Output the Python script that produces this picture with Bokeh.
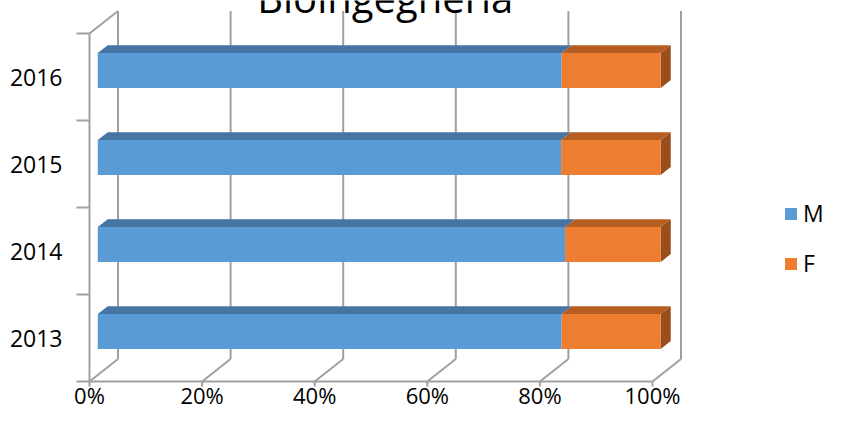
from bokeh.plotting import figure
from bokeh.models import Range1d, FixedTicker, Legend, LegendItem, Label
from bokeh.core.properties import value
from bokeh.embed import file_html
from bokeh.resources import INLINE

# ---- data ----
years = ["2013", "2014", "2015", "2016"]
m_share = [82.4, 83.0, 82.3, 82.4]
f_share = [17.6, 17.0, 17.7, 17.6]
x_ticks = [0, 20, 40, 60, 80, 100]
x_tick_labels = ["0%", "20%", "40%", "60%", "80%", "100%"]
title_text = "Bioingegneria"

# ---- style / layout ----
FONT = "Open Sans"
GREY = "#a0a0a0"
M_FRONT, M_TOP = "#5b9bd5", "#4675a4"
F_FRONT, F_TOP, F_SIDE = "#ed7d31", "#b65e22", "#9a4e1b"
PX_X = 5.63        # pixels per percent
PX_Y = 87.0        # pixels per category band
DX = 28.5 / PX_X   # depth vector (data units)
DY = 22.5 / PX_Y
F0, F1 = 0.29, 0.64   # bar depth (fraction of floor depth)
H = 0.2               # half bar height
ORIGIN_X, ORIGIN_Y = 89, 381   # pixel position of (0%, floor front)

W, HGT = 826, 409
left_border = 70
p = figure(width=W, height=HGT, output_backend="svg", toolbar_location=None,
           x_axis_location=None, y_axis_location="left",
           min_border_left=left_border, min_border_right=0,
           min_border_top=0, min_border_bottom=0,
           x_range=Range1d((left_border - ORIGIN_X) / PX_X, (W - ORIGIN_X) / PX_X),
           y_range=Range1d((ORIGIN_Y - HGT) / PX_Y, ORIGIN_Y / PX_Y))
p.outline_line_color = None
p.xgrid.visible = False
p.ygrid.visible = False
p.background_fill_color = "white"
p.border_fill_color = "white"

n = len(years)
# ---- walls / floor lines / ticks ----
sx0, sy0, sx1, sy1 = [], [], [], []
for t in x_ticks:
    sx0.append(t + DX); sy0.append(DY); sx1.append(t + DX); sy1.append(n + DY)
    sx0.append(t); sy0.append(0); sx1.append(t + DX); sy1.append(DY)
    sx0.append(t); sy0.append(0); sx1.append(t); sy1.append(-5 / PX_Y)
for k in range(n + 1):
    sx0.append(x_ticks[0] - 13 / PX_X); sy0.append(k); sx1.append(x_ticks[0]); sy1.append(k)
sx0.append(x_ticks[0]); sy0.append(0); sx1.append(x_ticks[-1]); sy1.append(0)
sx0.append(x_ticks[0]); sy0.append(0); sx1.append(x_ticks[0]); sy1.append(n)
sx0.append(x_ticks[0]); sy0.append(n); sx1.append(x_ticks[0] + DX); sy1.append(n + DY)
p.segment(sx0, sy0, sx1, sy1, line_color=GREY, line_width=2)

# ---- bars ----
mf_l, mf_r, ff_l, ff_r, b_bot, b_top = [], [], [], [], [], []
mt_xs, mt_ys, ft_xs, ft_ys, fs_xs, fs_ys = [], [], [], [], [], []
d = F1 - F0
for i in range(n):
    c = i + 0.5
    tot = m_share[i] + f_share[i]
    m_end = m_share[i] / tot * 100
    f_end = (m_share[i] + f_share[i]) / tot * 100
    bot = c - H + F0 * DY
    top = c + H + F0 * DY
    mf_l.append(0 + F0 * DX); mf_r.append(m_end + F0 * DX)
    ff_l.append(m_end + F0 * DX); ff_r.append(f_end + F0 * DX)
    b_bot.append(bot); b_top.append(top)
    mt_xs.append([0 + F0 * DX, m_end + F0 * DX, m_end + F1 * DX, 0 + F1 * DX])
    mt_ys.append([top, top, top + d * DY, top + d * DY])
    ft_xs.append([m_end + F0 * DX, f_end + F0 * DX, f_end + F1 * DX, m_end + F1 * DX])
    ft_ys.append([top, top, top + d * DY, top + d * DY])
    fs_xs.append([f_end + F0 * DX, f_end + F0 * DX, f_end + F1 * DX, f_end + F1 * DX])
    fs_ys.append([bot, top, top + d * DY, bot + d * DY])

p.patches(mt_xs, mt_ys, fill_color=M_TOP, line_color=None)
p.patches(ft_xs, ft_ys, fill_color=F_TOP, line_color=None)
p.patches(fs_xs, fs_ys, fill_color=F_SIDE, line_color=None)
rm = p.quad(left=mf_l, right=mf_r, bottom=b_bot, top=b_top, fill_color=M_FRONT, line_color=None)
rf = p.quad(left=ff_l, right=ff_r, bottom=b_bot, top=b_top, fill_color=F_FRONT, line_color=None)

# ---- x tick labels ----
p.text(x=x_ticks, y=[-13 / PX_Y] * len(x_ticks), text=x_tick_labels,
       text_font=value(FONT), text_font_size="22px", text_color="black",
       text_align="center", text_baseline="middle")

# ---- y axis (labels) ----
yax = p.yaxis[0]
yax.ticker = FixedTicker(ticks=[i + 0.5 for i in range(n)], minor_ticks=[])
yax.major_label_overrides = {i + 0.5: years[i] for i in range(n)}
yax.axis_line_color = None
yax.major_tick_line_color = None
yax.minor_tick_line_color = None
yax.major_tick_out = 0
yax.major_tick_in = 0
yax.minor_tick_out = 0
yax.minor_tick_in = 0
yax.major_label_standoff = 8
yax.major_label_text_font = FONT
yax.major_label_text_font_size = "23px"
yax.major_label_text_color = "black"

# ---- title ----
p.add_layout(Label(x=50 + DX / 2, y=(ORIGIN_Y + 3) / PX_Y, text=title_text, text_font=FONT,
                   text_font_size="40px", text_color="black", text_align="center",
                   text_baseline="alphabetic"))

# ---- legend ----
legend = Legend(items=[LegendItem(label="M", renderers=[rm]),
                       LegendItem(label="F", renderers=[rf])],
                location=(713, 130), orientation="vertical",
                glyph_width=15, glyph_height=15, label_height=15,
                spacing=18, padding=0, margin=0, label_standoff=5,
                border_line_color=None, background_fill_alpha=0,
                label_text_font=FONT, label_text_font_size="23px",
                label_text_color="black")
p.add_layout(legend)

open("out.html", "w").write(file_html(p, INLINE))
